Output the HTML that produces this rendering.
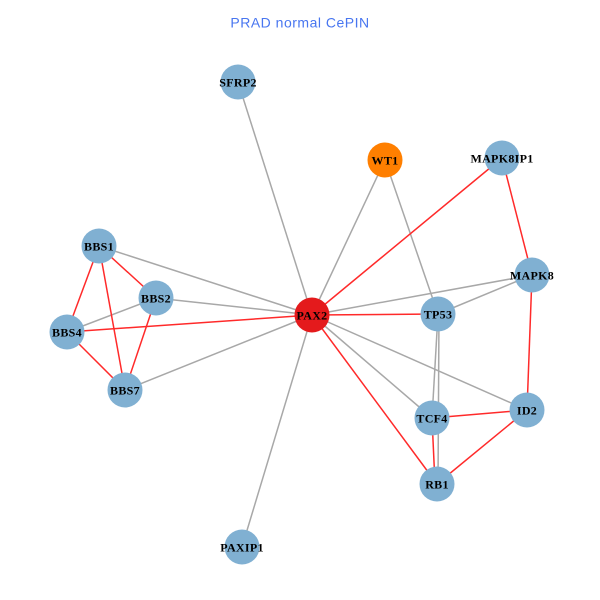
<!DOCTYPE html>
<html><head><meta charset="utf-8"><style>
html,body{margin:0;padding:0;background:#fff;}
svg{display:block;}
.n text{font-family:"Liberation Serif",serif;font-weight:bold;font-size:12px;fill:#000;text-anchor:middle;letter-spacing:0.3px;}
</style></head><body>
<svg width="600" height="600" viewBox="0 0 600 600" xmlns="http://www.w3.org/2000/svg">
<rect width="600" height="600" fill="#fff"/>
<text x="300" y="27.5" text-anchor="middle" font-family="Liberation Sans, sans-serif" font-size="14" letter-spacing="0.5" fill="#4876F0">PRAD normal CePIN</text>
<g stroke="#A8A8A8" stroke-width="1.5" fill="none">
<line x1="238" y1="82" x2="312" y2="315"/>
<line x1="385" y1="160" x2="312" y2="315"/>
<line x1="385" y1="160" x2="438" y2="314"/>
<line x1="99" y1="246" x2="312" y2="315"/>
<line x1="156" y1="298" x2="312" y2="315"/>
<line x1="67" y1="332" x2="156" y2="298"/>
<line x1="125" y1="390" x2="312" y2="315"/>
<line x1="312" y1="315" x2="242" y2="547"/>
<line x1="312" y1="315" x2="532" y2="275"/>
<line x1="438" y1="314" x2="532" y2="275"/>
<line x1="312" y1="315" x2="432" y2="418"/>
<line x1="312" y1="315" x2="527" y2="410"/>
<line x1="438" y1="314" x2="432" y2="418"/>
<line x1="439" y1="314" x2="438" y2="484"/>
</g>
<g stroke="#FF2A2A" stroke-width="1.5" fill="none">
<line x1="502" y1="158" x2="312" y2="315"/>
<line x1="502" y1="158" x2="532" y2="275"/>
<line x1="532" y1="275" x2="527" y2="410"/>
<line x1="312" y1="315" x2="438" y2="314"/>
<line x1="312" y1="315" x2="437" y2="484"/>
<line x1="432" y1="418" x2="527" y2="410"/>
<line x1="527" y1="410" x2="437" y2="484"/>
<line x1="432" y1="418" x2="435" y2="484"/>
<line x1="99" y1="246" x2="156" y2="298"/>
<line x1="99" y1="246" x2="67" y2="332"/>
<line x1="99" y1="246" x2="125" y2="390"/>
<line x1="156" y1="298" x2="125" y2="390"/>
<line x1="67" y1="332" x2="125" y2="390"/>
<line x1="67" y1="332" x2="312" y2="315"/>
</g>
<g class="n">
<circle cx="238" cy="82" r="17.5" fill="#80B0D2"/><text x="238" y="86.5">SFRP2</text>
<circle cx="385" cy="160" r="17.5" fill="#FF7F00"/><text x="385" y="164.5">WT1</text>
<circle cx="502" cy="158" r="17.5" fill="#80B0D2"/><text x="502" y="162.5">MAPK8IP1</text>
<circle cx="99" cy="246" r="17.5" fill="#80B0D2"/><text x="99" y="250.5">BBS1</text>
<circle cx="156" cy="298" r="17.5" fill="#80B0D2"/><text x="156" y="302.5">BBS2</text>
<circle cx="67" cy="332" r="17.5" fill="#80B0D2"/><text x="67" y="336.5">BBS4</text>
<circle cx="125" cy="390" r="17.5" fill="#80B0D2"/><text x="125" y="394.5">BBS7</text>
<circle cx="312" cy="315" r="17.5" fill="#E41A1C"/><text x="312" y="319.5">PAX2</text>
<circle cx="438" cy="314" r="17.5" fill="#80B0D2"/><text x="438" y="318.5">TP53</text>
<circle cx="532" cy="275" r="17.5" fill="#80B0D2"/><text x="532" y="279.5">MAPK8</text>
<circle cx="432" cy="418" r="17.5" fill="#80B0D2"/><text x="432" y="422.5">TCF4</text>
<circle cx="527" cy="410" r="17.5" fill="#80B0D2"/><text x="527" y="414.5">ID2</text>
<circle cx="437" cy="484" r="17.5" fill="#80B0D2"/><text x="437" y="488.5">RB1</text>
<circle cx="242" cy="547" r="17.5" fill="#80B0D2"/><text x="242" y="551.5">PAXIP1</text>
</g>
</svg>
</body></html>
